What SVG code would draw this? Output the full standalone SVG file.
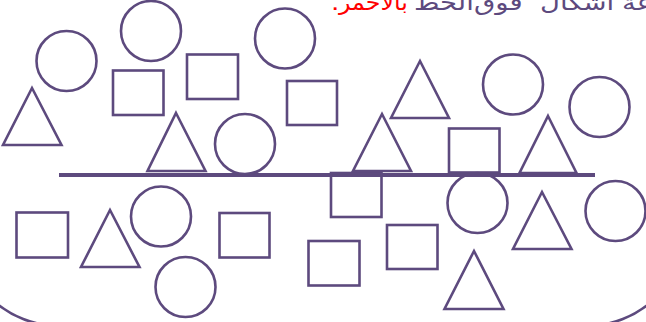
<svg xmlns="http://www.w3.org/2000/svg" width="646" height="322" viewBox="0 0 646 322">
<style>
.s{fill:none;stroke:#5d4a7e;stroke-width:2.6}
.t{font-family:"DejaVu Sans",sans-serif;font-size:22px;fill:#5d4a7e}
.red{fill:#ff0000}
</style>
<rect width="646" height="322" fill="#fff"/>
<rect id="frame" class="s" x="-40" y="-200" width="726" height="526" rx="100" ry="100"/>
<g id="title">
<text class="t red" transform="translate(331,10) scale(1.2,1)">.</text>
<text class="t red" transform="translate(339,10) scale(1.08,1)">بالأحمر</text>
<text class="t" transform="translate(414,10) scale(1.25,1)">الخط</text>
<text class="t" transform="translate(474,10) scale(1.25,1)">فوق</text>
<text class="t" transform="translate(540,10) scale(1.25,1)">أشكال</text>
<text class="t" transform="translate(622,10) scale(1.25,1)">مجموعة</text>
</g>
<g id="connectors">
<line x1="59" y1="175" x2="595" y2="175" stroke="#5d4a7e" stroke-width="4"/>
</g>
<g id="c1"><circle class="s" cx="66.5" cy="61" r="30"/></g>
<g id="c2"><circle class="s" cx="151" cy="31" r="30"/></g>
<g id="c3"><circle class="s" cx="285" cy="38.5" r="30"/></g>
<g id="c4"><circle class="s" cx="245" cy="144" r="30"/></g>
<g id="c5"><circle class="s" cx="513" cy="84.5" r="30"/></g>
<g id="c6"><circle class="s" cx="599.5" cy="107" r="30"/></g>
<g id="c7"><circle class="s" cx="161" cy="216.5" r="30"/></g>
<g id="c8"><circle class="s" cx="185.5" cy="287" r="30"/></g>
<g id="c9"><circle class="s" cx="477.5" cy="203" r="30"/></g>
<g id="c10"><circle class="s" cx="615.5" cy="211" r="30"/></g>
<g id="r1"><rect class="s" x="113" y="70.5" width="50.5" height="44.5"/></g>
<g id="r2"><rect class="s" x="187" y="54.5" width="51" height="44.5"/></g>
<g id="r3"><rect class="s" x="287" y="81" width="50" height="44"/></g>
<g id="r4"><rect class="s" x="449" y="128.5" width="50.5" height="44"/></g>
<g id="r5"><rect class="s" x="16.5" y="212.5" width="51.5" height="45"/></g>
<g id="r6"><rect class="s" x="219.5" y="213" width="50" height="44.5"/></g>
<g id="r7"><rect class="s" x="331" y="173" width="50.5" height="44"/></g>
<g id="r8"><rect class="s" x="387" y="225" width="50.5" height="44"/></g>
<g id="r9"><rect class="s" x="308.5" y="241" width="51" height="44.5"/></g>
<g id="t1"><polygon class="s" points="32,88 61.5,145 3,145"/></g>
<g id="t2"><polygon class="s" points="176,113 205.5,171 147.5,171"/></g>
<g id="t3"><polygon class="s" points="420,61 449,118 391,118"/></g>
<g id="t4"><polygon class="s" points="382,114 411,171 353,171"/></g>
<g id="t5"><polygon class="s" points="548,116 576.5,173 519.5,173"/></g>
<g id="t6"><polygon class="s" points="110,210 139.5,267 81,267"/></g>
<g id="t7"><polygon class="s" points="542,192 571.5,249 513,249"/></g>
<g id="t8"><polygon class="s" points="474,251 503.5,309 444.5,309"/></g>
</svg>
